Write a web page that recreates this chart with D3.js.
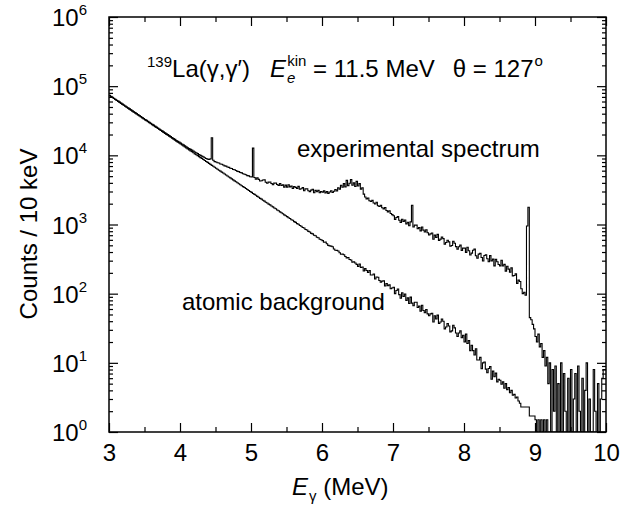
<!DOCTYPE html>
<html>
<head>
<meta charset="utf-8">
<script src="https://cdn.jsdelivr.net/npm/d3@7"></script>
<style>
  html, body { margin: 0; padding: 0; background: #fff; }
  svg { display: block; }
  text { font-family: "Liberation Sans", Arial, Helvetica, sans-serif; fill: #000; }
</style>
</head>
<body>
<svg id="chart" width="642" height="505"></svg>
<script>
// ---------------- data ----------------
const energyStart = 3.0;     // MeV, first bin edge
const binWidth = 0.02;       // MeV per plotted bin
const xTickValues = [3, 4, 5, 6, 7, 8, 9, 10];
const xMinorTickValues = [3.5, 4.5, 5.5, 6.5, 7.5, 8.5, 9.5];
const yTickExponents = [0, 1, 2, 3, 4, 5, 6];

// atomic background (counts / bin), 3.00 - 10.00 MeV
const background = [
  73000,70700,68500,66300,64200,62100,60200,58300,56400,54600,52900,51200,49600,48000,46500,45000,43600,42200,40900,39600,38300,37100,35900,34800,33700,
  32600,31600,30600,29600,28700,27800,26900,26000,25200,24400,23600,22900,22200,21400,20800,20100,19500,18900,18300,17700,17100,16600,16000,15500,15100,
  14600,14100,13700,13200,12800,12400,12000,11600,11300,10900,10500,10200,9900,9580,9280,8980,8700,8420,8160,7900,7650,7410,7170,6940,6720,
  6510,6300,6100,5910,5720,5540,5360,5190,5030,4870,4720,4570,4420,4280,4140,4010,3890,3760,3640,3530,3420,3310,3200,3100,3000,
  2910,2800,2730,2650,2550,2480,2390,2330,2240,2180,2100,2050,1970,1920,1850,1800,1730,1690,1620,1580,1520,1480,1430,1380,1340,
  1300,1250,1220,1170,1150,1100,1075,1030,1010,965,945,905,888,848,832,795,780,745,732,698,688,655,644,612,602,
  585,554,557,527,499,491,487,477,443,424,423,413,390,371,373,366,345,329,334,312,307,286,289,277,265,
  247,269,239,243,213,230,216,202,216,186,186,192,163,174,173,155,146,152,154,129,140,130,134,118,121,
  124,100,111,117,97,86,103,91,99,80,87,72,89,73,67,75,75,63,66,56,68,57,53,59,51,
  48,51,52,39,48,43,49,37,39,43,40,31,33,37,34,28,29,35,32,27,24,27,29,23,25,
  20,26,19,21,15,18,15,13,16,11,11,12,8.2,10,10.3,8.1,7.2,8.3,8.8,5.8,7.6,6.3,7.1,5.3,5.8,
  5.6,4.9,5.3,4.3,5.0,4.1,4.4,3.7,4.0,3.4,3.5,3.1,3.2,2.8,2.6,2.3,2.3,2.3,2.3,2.3,2.3,1.7,1.7,1.7,1.7,
  1.5,0.5,1.5,0.5,1.5,0.5,1.5,0.5,1.5,0.5,0,0,0,0,0,0,0,0,0,0,0,0,0,0,0,
  0,0,0,0,0,0,0,0,0,0,0,0,0,0,0,0,0,0,0,0,0,0,0,0,0
];

// experimental spectrum (counts / bin), 3.00 - 10.00 MeV
const experimental = [
  73500,71300,69100,66900,64800,62700,60800,58900,57000,55200,53400,51800,50100,48500,47000,45500,44100,42700,41400,40100,38800,37600,36400,35200,34100,
  33000,32000,31000,30000,29100,28200,27300,26400,25600,24800,24000,23300,22600,21800,21200,20500,19900,19300,18700,18100,17500,17000,16400,15900,15500,
  15000,14600,14200,13700,13300,12900,12500,12200,11900,11500,11200,10900,10600,10300,10000,9750,9500,9250,9000,8800,8700,8900,18000,8500,8100,
  8020,7820,7740,7500,7420,7260,7050,6990,6790,6700,6520,6440,6230,6180,6030,5870,5810,5640,5580,5420,5340,5240,5090,5040,4900,
  4880,12700,4770,4500,4720,4490,4250,4290,4400,4420,4080,3950,4100,4110,3910,3750,3970,3980,3790,3670,3910,3670,3740,3470,3710,
  3470,3760,3500,3590,3310,3550,3440,3330,3560,3230,3280,3410,3070,3270,3290,3070,2990,3140,3230,2880,3110,2980,3110,2880,3000,
  2930,3060,2870,2990,2820,2950,3080,2900,3020,3200,3050,3400,3250,3700,3450,3900,3500,4350,3650,3950,4450,3700,4000,3550,4200,
  3600,3900,3250,3400,2750,2500,2350,2420,2200,2150,2230,2050,1980,2100,1870,1820,1900,1750,1680,1760,1590,1520,1580,1440,1390,
  1340,1180,1260,1300,1150,1070,1190,1110,1160,1020,1080,960,1090,1900,920,980,980,870,900,810,920,830,780,840,760,
  705,733,752,611,703,648,720,590,615,660,625,520,550,591,560,484,498,573,537,479,440,476,504,423,456,
  455,395,469,418,362,385,425,440,353,325,373,383,333,297,357,366,320,290,355,298,316,252,313,290,264,
  252,304,251,265,212,249,226,204,236,181,183,193,141,157,150,118,100,105,95,950,1780,45,42,36,31,
  24,20,26,17,19,12,15,9,12,5,10,0,8,2,9,0,5,1,10,0,7,2,0,6,1,
  8,0,3,7,0,9,2,0,6,0,4,10,0,3,1,0,8,2,0,5,0,3,6,8,8
];

// ---------------- layout ----------------
const W = 642, H = 505;
const plot = { left: 109, right: 606, top: 17, bottom: 432 };
const FONT = 24, SMALL = 15;

const svg = d3.select("#chart");
svg.append("rect").attr("width", W).attr("height", H).attr("fill", "#fff");

const x = d3.scaleLinear().domain([3, 10]).range([plot.left, plot.right]);
const y = d3.scaleLog().domain([1, 1e6]).range([plot.bottom, plot.top]).clamp(true);

svg.append("defs").append("clipPath").attr("id", "clip")
  .append("rect").attr("x", plot.left).attr("y", plot.top)
  .attr("width", plot.right - plot.left).attr("height", plot.bottom - plot.top);

function stepPoints(vals) {
  const pts = vals.map((v, i) => [energyStart + i * binWidth, v]);
  pts.push([energyStart + vals.length * binWidth, vals[vals.length - 1]]);
  return pts;
}
const line = d3.line()
  .x(d => x(d[0]))
  .y(d => y(Math.max(d[1], 0.5)))
  .curve(d3.curveStepAfter);

const gData = svg.append("g").attr("clip-path", "url(#clip)");
gData.append("path").datum(stepPoints(background))
  .attr("d", line).attr("fill", "none").attr("stroke", "#000").attr("stroke-width", 1.1);
gData.append("path").datum(stepPoints(experimental))
  .attr("d", line).attr("fill", "none").attr("stroke", "#000").attr("stroke-width", 1.1);

// ---------------- axes ----------------
const majorLen = 9, minorLen = 5;
const yMinor = [];
yTickExponents.slice(0, -1).forEach(e => { for (let m = 2; m <= 9; m++) yMinor.push(m * Math.pow(10, e)); });
const yMajor = yTickExponents.map(e => Math.pow(10, e));

function styleAxis(g) {
  g.select(".domain").remove();
  g.selectAll(".tick line").attr("stroke", "#000").attr("stroke-width", 1.2);
}

// bottom
const gb = svg.append("g").attr("transform", `translate(0,${plot.bottom})`)
  .call(d3.axisBottom(x).tickValues(xTickValues).tickSize(-majorLen).tickPadding(12).tickFormat(d3.format("d")));
styleAxis(gb);
gb.selectAll(".tick text").attr("font-size", FONT).attr("font-family", "Liberation Sans, Arial, sans-serif").attr("fill", "#000");
svg.append("g").attr("transform", `translate(0,${plot.bottom})`)
  .call(d3.axisBottom(x).tickValues(xMinorTickValues).tickSize(-minorLen).tickFormat(""))
  .call(styleAxis);

// top
svg.append("g").attr("transform", `translate(0,${plot.top})`)
  .call(d3.axisTop(x).tickValues(xTickValues).tickSize(-majorLen).tickFormat(""))
  .call(styleAxis);
svg.append("g").attr("transform", `translate(0,${plot.top})`)
  .call(d3.axisTop(x).tickValues(xMinorTickValues).tickSize(-minorLen).tickFormat(""))
  .call(styleAxis);

// left
svg.append("g").attr("transform", `translate(${plot.left},0)`)
  .call(d3.axisLeft(y).tickValues(yMajor).tickSize(-majorLen).tickFormat(""))
  .call(styleAxis);
svg.append("g").attr("transform", `translate(${plot.left},0)`)
  .call(d3.axisLeft(y).tickValues(yMinor).tickSize(-4).tickFormat(""))
  .call(styleAxis);
// right
svg.append("g").attr("transform", `translate(${plot.right},0)`)
  .call(d3.axisRight(y).tickValues(yMajor).tickSize(-majorLen).tickFormat(""))
  .call(styleAxis);
svg.append("g").attr("transform", `translate(${plot.right},0)`)
  .call(d3.axisRight(y).tickValues(yMinor).tickSize(-4).tickFormat(""))
  .call(styleAxis);

// y tick labels 10^n
yTickExponents.forEach(e => {
  const t = svg.append("text")
    .attr("x", plot.left - 22).attr("y", y(Math.pow(10, e)) + 9)
    .attr("text-anchor", "end").attr("font-size", FONT);
  t.append("tspan").text("10");
  t.append("tspan").attr("font-size", SMALL).attr("dy", -11).text(e);
});

// frame
svg.append("rect")
  .attr("x", plot.left).attr("y", plot.top)
  .attr("width", plot.right - plot.left).attr("height", plot.bottom - plot.top)
  .attr("fill", "none").attr("stroke", "#000").attr("stroke-width", 1.5);

// axis titles
const xt = svg.append("text").attr("x", 292).attr("y", 495).attr("font-size", FONT);
xt.append("tspan").attr("font-style", "italic").text("E");
xt.append("tspan").attr("font-size", SMALL).attr("dy", 6).attr("dx", 1).text("γ");
xt.append("tspan").attr("dy", -6).text(" (MeV)");

svg.append("text")
  .attr("transform", "translate(37,234) rotate(-90)")
  .attr("text-anchor", "middle").attr("font-size", FONT)
  .text("Counts / 10 keV");

// title annotation
const title = svg.append("text").attr("x", 147).attr("y", 77).attr("font-size", FONT);
title.append("tspan").attr("font-size", SMALL).attr("dy", -10).text("139");
title.append("tspan").attr("dy", 10).text("La(γ,γ′)");
title.append("tspan").attr("dx", 20).attr("font-style", "italic").text("E");
title.append("tspan").attr("font-size", SMALL).attr("font-style", "italic").attr("dy", 6).attr("dx", 1).text("e");
title.append("tspan").attr("font-size", SMALL).attr("dy", -17).attr("dx", -8).text("kin");
title.append("tspan").attr("dy", 11).text(" = 11.5 MeV");
title.append("tspan").attr("dx", 18).text("θ = 127");
title.append("tspan").attr("font-size", SMALL).attr("dy", -11).attr("dx", 1).text("o");

// curve labels
svg.append("text").attr("x", 297).attr("y", 157).attr("font-size", FONT).text("experimental spectrum");
svg.append("text").attr("x", 182).attr("y", 310).attr("font-size", FONT).text("atomic background");
</script>
</body>
</html>
